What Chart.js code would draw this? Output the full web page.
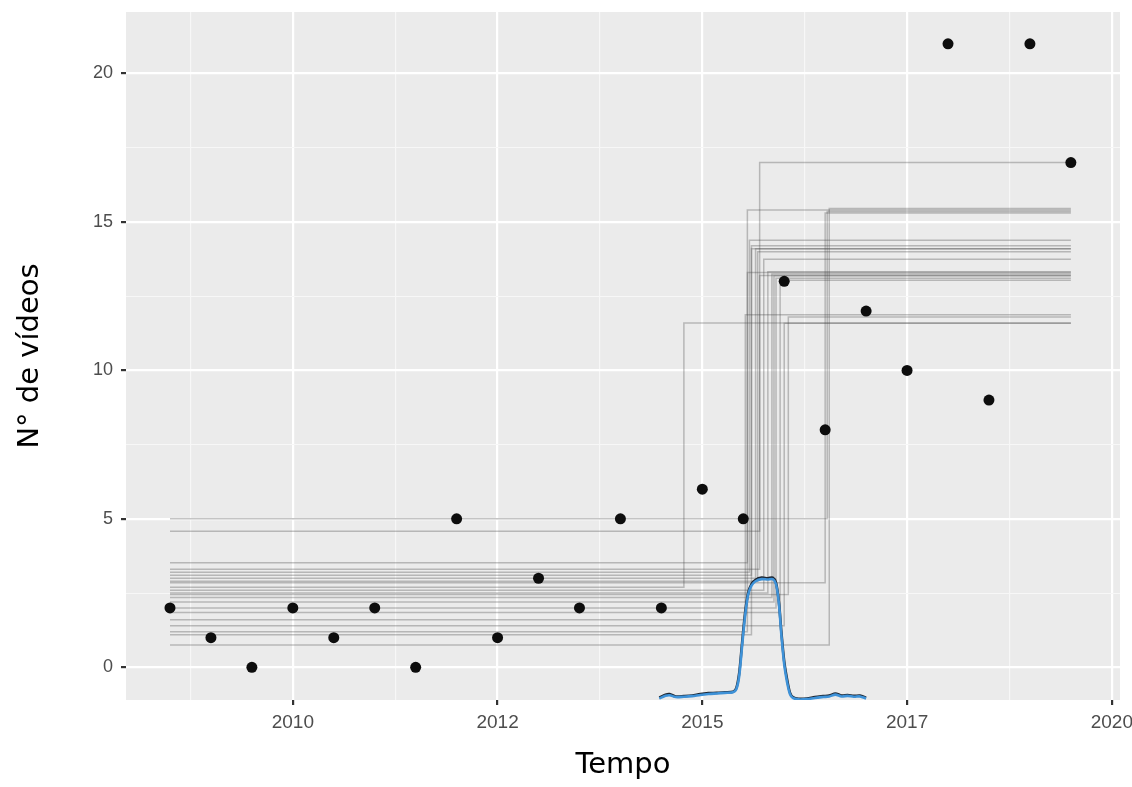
<!DOCTYPE html>
<html>
<head>
<meta charset="utf-8">
<script src="https://cdn.jsdelivr.net/npm/chart.js@4.4.1/dist/chart.umd.min.js"></script>
<style>
  html, body { margin: 0; padding: 0; background: #fff; }
  canvas { display: block; }
</style>
</head>
<body>
<canvas id="chart" width="1132" height="787"></canvas>
<script>
// observed counts, one per period (x is the period index)
const pointX = [0, 1, 2, 3, 4, 5, 6, 7, 8, 9, 10, 11, 12, 13, 14, 15, 16, 17, 18, 19, 20, 21, 22];
const pointY = [2, 1, 0, 2, 1, 2, 0, 5, 1, 3, 2, 5, 2, 6, 5, 13, 8, 12, 10, 21, 9, 21, 17];

// tick labels on the x axis, placed at period indices
const xTickPos = [3, 8, 13, 18, 23];
const xTickLabels = ["2010", "2012", "2015", "2017", "2020"];
const yTicks = [0, 5, 10, 15, 20];

// posterior changepoint draws: level before, change index, level after
const stepLeft   = [4.58, 2.7, 0.75, 5.0, 2.85, 3.52, 3.2, 3.1, 3.0, 2.9, 2.6, 2.5, 2.35, 2.2, 2.0, 1.85, 1.6, 1.4, 1.2, 1.1, 3.3, 2.45];
const stepChange = [14.4, 12.55, 16.1, 16.05, 16.0, 14.1, 14.15, 14.2, 14.3, 14.35, 14.5, 14.6, 14.7, 14.75, 14.8, 14.9, 14.05, 15.0, 14.1, 14.2, 14.4, 15.1];
const stepRight  = [17.0, 11.6, 15.45, 15.35, 15.3, 15.4, 14.38, 14.2, 14.1, 14.0, 13.74, 13.32, 13.25, 13.19, 13.1, 13.04, 11.87, 11.59, 13.3, 14.1, 13.2, 11.8];

// density of the changepoint location (drawn on the count scale)
const densX    = [11.95, 12.1, 12.2, 12.35, 12.55, 12.75, 12.95, 13.15, 13.35, 13.55, 13.75, 13.83, 13.9, 13.97, 14.05, 14.12, 14.2, 14.3, 14.45, 14.6, 14.72, 14.8, 14.87, 14.93, 15.0, 15.07, 15.14, 15.21, 15.35, 15.55, 15.75, 15.95, 16.1, 16.25, 16.4, 16.55, 16.7, 16.85, 17.0];
const densDark = [-1.02, -0.92, -0.9, -0.98, -0.97, -0.95, -0.9, -0.87, -0.86, -0.84, -0.82, -0.7, -0.2, 0.8, 1.9, 2.5, 2.8, 2.95, 3.02, 3.0, 3.02, 2.85, 2.2, 1.2, 0.2, -0.4, -0.85, -1.0, -1.06, -1.05, -1.0, -0.97, -0.95, -0.88, -0.95, -0.93, -0.96, -0.95, -1.02];
const densBlue = [-1.05, -0.96, -0.94, -1.0, -0.99, -0.97, -0.93, -0.9, -0.88, -0.86, -0.84, -0.74, -0.3, 0.7, 1.8, 2.45, 2.75, 2.9, 2.97, 2.96, 2.97, 2.8, 2.15, 1.1, 0.1, -0.5, -0.9, -1.03, -1.08, -1.07, -1.03, -1.0, -0.98, -0.92, -0.98, -0.96, -0.99, -0.98, -1.05];

const xMinor = xTickPos.map(v => v - 2.5);
const xAll = xMinor.concat(xTickPos).sort((a, b) => a - b);
const yAll = [];
yTicks.forEach(v => { yAll.push(v); if (v + 2.5 < 22) yAll.push(v + 2.5); });

const panelBg = {
  id: "panelBg",
  beforeDraw(chart) {
    const a = chart.chartArea;
    const ctx = chart.ctx;
    ctx.save();
    ctx.fillStyle = "#EBEBEB";
    ctx.fillRect(a.left, a.top, a.right - a.left, a.bottom - a.top);
    ctx.restore();
  }
};

const datasets = [];
datasets.push({
  label: "videos",
  data: pointX.map((x, i) => ({ x: x, y: pointY[i] })),
  pointRadius: 5.5,
  pointBackgroundColor: "#0d0d0d",
  pointBorderColor: "#0d0d0d",
  pointBorderWidth: 0,
  showLine: false,
  order: 0
});
datasets.push({
  label: "density blue",
  data: densX.map((x, i) => ({ x: x, y: densBlue[i] })),
  showLine: true,
  borderColor: "rgb(62,146,216)",
  borderWidth: 2.6,
  pointRadius: 0,
  tension: 0.3,
  order: 1
});
datasets.push({
  label: "density dark",
  data: densX.map((x, i) => ({ x: x, y: densDark[i] })),
  showLine: true,
  borderColor: "rgba(20,28,40,0.95)",
  borderWidth: 2.6,
  pointRadius: 0,
  tension: 0.3,
  order: 2
});
stepLeft.forEach((lv, i) => {
  datasets.push({
    label: "draw " + i,
    data: [
      { x: 0, y: lv },
      { x: stepChange[i], y: lv },
      { x: stepChange[i], y: stepRight[i] },
      { x: 22, y: stepRight[i] }
    ],
    showLine: true,
    borderColor: "rgba(70,70,70,0.32)",
    borderWidth: 1.5,
    pointRadius: 0,
    order: 3
  });
});

const isMajorX = v => xTickPos.indexOf(v) >= 0;
const isMajorY = v => yTicks.indexOf(v) >= 0;

new Chart(document.getElementById("chart"), {
  type: "scatter",
  data: { datasets: datasets },
  plugins: [panelBg],
  options: {
    responsive: false,
    animation: false,
    layout: { padding: { top: 12, right: 12, left: 0, bottom: 0 } },
    plugins: { legend: { display: false }, tooltip: { enabled: false } },
    scales: {
      x: {
        type: "linear",
        min: -1.074,
        max: 23.2,
        afterBuildTicks: s => { s.ticks = xAll.map(v => ({ value: v })); },
        afterFit: s => { s.height = 87; s.paddingLeft = 0; s.paddingRight = 0; },
        border: { display: false },
        grid: {
          color: ctx => isMajorX(ctx.tick.value) ? "#ffffff" : "#f7f7f7",
          lineWidth: ctx => isMajorX(ctx.tick.value) ? 2.2 : 1.1,
          tickColor: ctx => isMajorX(ctx.tick.value) ? "#333333" : "rgba(0,0,0,0)",
          tickLength: 5
        },
        ticks: {
          autoSkip: false,
          maxRotation: 0,
          padding: 6,
          color: "#4D4D4D",
          font: { family: "'Liberation Sans', Arial, sans-serif", size: 19 },
          callback: v => { const i = xTickPos.indexOf(v); return i >= 0 ? xTickLabels[i] : ""; }
        },
        title: {
          display: true,
          text: "Tempo",
          color: "#000",
          padding: { top: 0, bottom: 4 },
          font: { family: "'DejaVu Sans', sans-serif", size: 29 }
        }
      },
      y: {
        type: "linear",
        min: -1.1,
        max: 22.07,
        afterBuildTicks: s => { s.ticks = yAll.map(v => ({ value: v })); },
        afterFit: s => { s.width = 126; s.paddingTop = 0; s.paddingBottom = 0; },
        border: { display: false },
        grid: {
          color: ctx => isMajorY(ctx.tick.value) ? "#ffffff" : "#f7f7f7",
          lineWidth: ctx => isMajorY(ctx.tick.value) ? 2.2 : 1.1,
          tickColor: ctx => isMajorY(ctx.tick.value) ? "#333333" : "rgba(0,0,0,0)",
          tickLength: 5
        },
        ticks: {
          autoSkip: false,
          padding: 8,
          color: "#4D4D4D",
          font: { family: "'Liberation Sans', Arial, sans-serif", size: 18 },
          callback: v => isMajorY(v) ? String(v) : ""
        },
        title: {
          display: true,
          text: "N° de vídeos",
          color: "#000",
          padding: { top: 13, bottom: 0 },
          font: { family: "'DejaVu Sans', sans-serif", size: 29 }
        }
      }
    }
  }
});
</script>
</body>
</html>
